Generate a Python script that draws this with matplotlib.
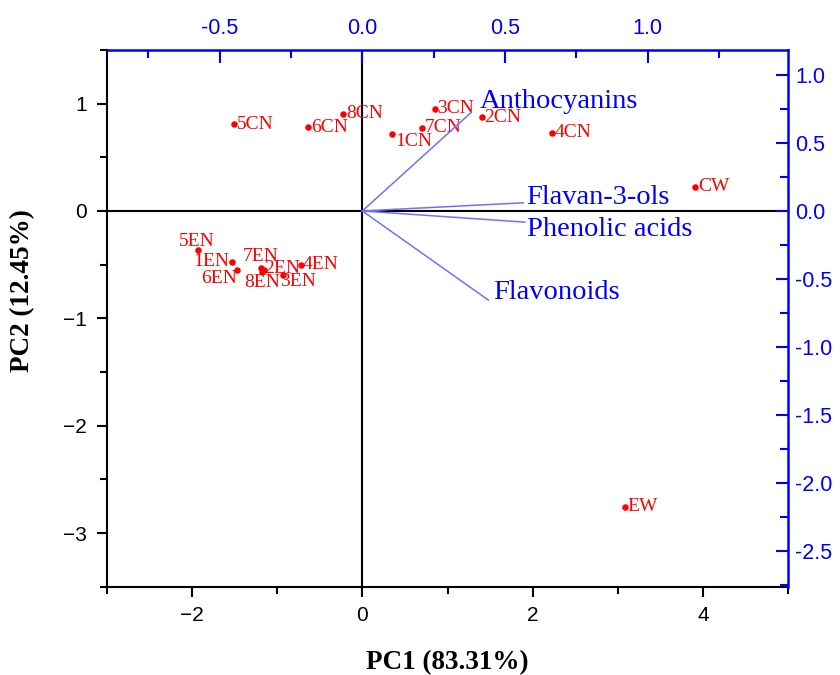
import matplotlib
matplotlib.use("Agg")
import matplotlib.pyplot as plt
from matplotlib.ticker import MultipleLocator, FormatStrFormatter

# ---- data: scores (PC1, PC2) ----
sample_names = ["5CN", "6CN", "8CN", "1CN", "7CN", "3CN", "2CN", "4CN", "CW", "EW",
                "5EN", "1EN", "6EN", "7EN", "2EN", "8EN", "3EN", "4EN"]
pc1_scores = [-1.50, -0.633, -0.223, 0.352, 0.703, 0.852, 1.40, 2.232, 3.909, 3.08,
              -1.923, -1.531, -1.465, -1.193, -1.152, -1.182, -0.933, -0.722]
pc2_scores = [0.81, 0.779, 0.904, 0.72, 0.774, 0.953, 0.872, 0.727, 0.224, -2.753,
              -0.361, -0.475, -0.554, -0.533, -0.547, -0.566, -0.60, -0.50]

# ---- data: loadings (top / right axes) ----
loading_names = ["Anthocyanins", "Flavan-3-ols", "Phenolic acids", "Flavonoids"]
load_x = [0.381, 0.564, 0.570, 0.442]
load_y = [0.723, 0.060, -0.082, -0.655]

xlabel_text = "PC1 (83.31%)"
ylabel_text = "PC2 (12.45%)"

# label offsets (pixels, text centre relative to point)
label_offsets = {
    "5CN": (21, 0), "6CN": (21, 0), "8CN": (21, 0), "1CN": (21, -8),
    "7CN": (21, 0), "3CN": (21, 0), "2CN": (21, 0), "4CN": (21, 0),
    "CW": (19, 0), "EW": (18, 0),
    "5EN": (-2, 8), "1EN": (-21, 0), "6EN": (-18, -8), "7EN": (0, 12),
    "2EN": (18, 1), "8EN": (1, -11), "3EN": (15, -6), "4EN": (20, 0),
}
loading_offsets = [(9, 11), (3, 5), (2, -7), (5, 8)]

RED = "#ff0000"
BLUE = "#0000ff"
LBLUE = "#7070ff"
SERIF = "Liberation Serif"
SANS = "Liberation Sans"

fig = plt.figure(figsize=(8.4, 6.75), dpi=100)
pos = [0.127, 0.1308, 0.9385 - 0.127, 0.926 - 0.1308]
ax = fig.add_axes(pos)
ax2 = fig.add_axes(pos, frameon=False)

xlim1 = (-3, 5)
ylim1 = (-3.5, 1.5)
rx, ry = 0.2987, 0.789
ax.set_xlim(*xlim1)
ax.set_ylim(*ylim1)
ax2.set_xlim(xlim1[0] * rx, xlim1[1] * rx)
ax2.set_ylim(ylim1[0] * ry, ylim1[1] * ry)

# zero lines
ax.axhline(0, color="black", lw=1.5, zorder=1)
ax.axvline(0, color="black", lw=1.5, zorder=1)

# scores
ax.scatter(pc1_scores, pc2_scores, s=22, color=RED, zorder=3, linewidths=0)
for name, x, y in zip(sample_names, pc1_scores, pc2_scores):
    dx, dy = label_offsets[name]
    ax.annotate(name, (x, y), xytext=(dx, dy), textcoords="offset pixels",
                ha="center", va="center", color=RED, fontsize=14,
                family=SERIF, zorder=4)

# loadings
for name, x, y, (dx, dy) in zip(loading_names, load_x, load_y, loading_offsets):
    ax2.plot([0, x], [0, y], color=LBLUE, lw=1.1, zorder=2)
    ax2.annotate(name, (x, y), xytext=(dx, dy), textcoords="offset pixels",
                 ha="left", va="center", color=BLUE, fontsize=20.5, family=SERIF)

# primary axes styling
for side in ["left", "bottom"]:
    ax.spines[side].set_linewidth(1.5)
    ax.spines[side].set_color("black")
ax.spines["top"].set_visible(False)
ax.spines["right"].set_visible(False)
ax.xaxis.set_major_locator(MultipleLocator(2))
ax.xaxis.set_minor_locator(MultipleLocator(1))
ax.yaxis.set_major_locator(MultipleLocator(1))
ax.yaxis.set_minor_locator(MultipleLocator(0.5))
ax.tick_params(which="both", direction="out", width=1.5, top=False, right=False,
               labelsize=15, colors="black", pad=7)
ax.tick_params(which="major", length=7)
ax.tick_params(which="minor", length=5)
for lab in ax.get_xticklabels() + ax.get_yticklabels():
    lab.set_family(SANS)
ax.set_xlabel(xlabel_text, family=SERIF, fontweight="bold", fontsize=19.5)
ax.set_ylabel(ylabel_text, family=SERIF, fontweight="bold", fontsize=19.5)
ax.xaxis.set_label_coords(0.5, -0.118)
ax.yaxis.set_label_coords(-0.105, 0.551)

# secondary axes styling (top / right)
ax2.xaxis.tick_top()
ax2.yaxis.tick_right()
ax2.xaxis.set_major_locator(MultipleLocator(0.5))
ax2.xaxis.set_minor_locator(MultipleLocator(0.25))
ax2.yaxis.set_major_locator(MultipleLocator(0.5))
ax2.yaxis.set_minor_locator(MultipleLocator(0.25))
ax2.tick_params(which="both", direction="in", width=1.5, colors=BLUE,
                labelsize=15.5, bottom=False, left=False)
ax2.tick_params(axis="x", which="major", length=9, pad=8)
ax2.tick_params(axis="x", which="minor", length=6)
ax2.tick_params(axis="y", which="major", length=9, pad=5)
ax2.tick_params(axis="y", which="minor", length=6)
ax2.xaxis.set_major_formatter(FormatStrFormatter("%.1f"))
ax2.yaxis.set_major_formatter(FormatStrFormatter("%.1f"))
for lab in ax2.get_xticklabels() + ax2.get_yticklabels():
    lab.set_family(SANS)
ax2.set_frame_on(True)
ax2.patch.set_visible(False)
ax2.spines["left"].set_visible(False)
ax2.spines["bottom"].set_visible(False)
ax2.spines["top"].set_color(BLUE)
ax2.spines["right"].set_color(BLUE)
ax2.spines["top"].set_linewidth(1.8)
ax2.spines["right"].set_linewidth(1.8)

fig.savefig("out.png", dpi=100)
